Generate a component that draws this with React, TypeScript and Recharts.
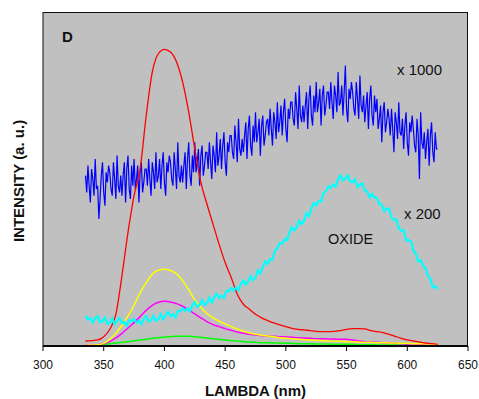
import React from 'react';
import { LineChart, Line, XAxis, YAxis, CartesianGrid } from 'recharts';

// wavelength grids (nm)
const SMOOTH_NM = [
  335, 340, 345, 350, 355, 360, 365, 370, 375, 380,
  385, 390, 395, 400, 405, 410, 415, 420, 425, 430,
  435, 440, 445, 450, 455, 460, 465, 470, 475, 480,
  485, 490, 495, 500, 505, 510, 515, 520, 525, 530,
  535, 540, 545, 550, 555, 560, 565, 570, 575, 580,
  585, 590, 595, 600, 605, 610, 615, 620, 625,
];

const CYAN_NM = [
  335, 337, 339, 341, 343, 345, 347, 349, 351, 353,
  355, 357, 359, 361, 363, 365, 367, 369, 371, 373,
  375, 377, 379, 381, 383, 385, 387, 389, 391, 393,
  395, 397, 399, 401, 403, 405, 407, 409, 411, 413,
  415, 417, 419, 421, 423, 425, 427, 429, 431, 433,
  435, 437, 439, 441, 443, 445, 447, 449, 451, 453,
  455, 457, 459, 461, 463, 465, 467, 469, 471, 473,
  475, 477, 479, 481, 483, 485, 487, 489, 491, 493,
  495, 497, 499, 501, 503, 505, 507, 509, 511, 513,
  515, 517, 519, 521, 523, 525, 527, 529, 531, 533,
  535, 537, 539, 541, 543, 545, 547, 549, 551, 553,
  555, 557, 559, 561, 563, 565, 567, 569, 571, 573,
  575, 577, 579, 581, 583, 585, 587, 589, 591, 593,
  595, 597, 599, 601, 603, 605, 607, 609, 611, 613,
  615, 617, 619, 621, 623, 625,
];

const BLUE_NM = [
  335, 336, 337, 338, 339, 340, 341, 342, 343, 344,
  345, 346, 347, 348, 349, 350, 351, 352, 353, 354,
  355, 356, 357, 358, 359, 360, 361, 362, 363, 364,
  365, 366, 367, 368, 369, 370, 371, 372, 373, 374,
  375, 376, 377, 378, 379, 380, 381, 382, 383, 384,
  385, 386, 387, 388, 389, 390, 391, 392, 393, 394,
  395, 396, 397, 398, 399, 400, 401, 402, 403, 404,
  405, 406, 407, 408, 409, 410, 411, 412, 413, 414,
  415, 416, 417, 418, 419, 420, 421, 422, 423, 424,
  425, 426, 427, 428, 429, 430, 431, 432, 433, 434,
  435, 436, 437, 438, 439, 440, 441, 442, 443, 444,
  445, 446, 447, 448, 449, 450, 451, 452, 453, 454,
  455, 456, 457, 458, 459, 460, 461, 462, 463, 464,
  465, 466, 467, 468, 469, 470, 471, 472, 473, 474,
  475, 476, 477, 478, 479, 480, 481, 482, 483, 484,
  485, 486, 487, 488, 489, 490, 491, 492, 493, 494,
  495, 496, 497, 498, 499, 500, 501, 502, 503, 504,
  505, 506, 507, 508, 509, 510, 511, 512, 513, 514,
  515, 516, 517, 518, 519, 520, 521, 522, 523, 524,
  525, 526, 527, 528, 529, 530, 531, 532, 533, 534,
  535, 536, 537, 538, 539, 540, 541, 542, 543, 544,
  545, 546, 547, 548, 549, 550, 551, 552, 553, 554,
  555, 556, 557, 558, 559, 560, 561, 562, 563, 564,
  565, 566, 567, 568, 569, 570, 571, 572, 573, 574,
  575, 576, 577, 578, 579, 580, 581, 582, 583, 584,
  585, 586, 587, 588, 589, 590, 591, 592, 593, 594,
  595, 596, 597, 598, 599, 600, 601, 602, 603, 604,
  605, 606, 607, 608, 609, 610, 611, 612, 613, 614,
  615, 616, 617, 618, 619, 620, 621, 622, 623, 624,
  625,
];

const RED = [
  1.5, 1.6, 1.8, 2.8, 5.0, 9.5, 21, 34, 45, 53,
  69, 82, 87.5, 88.8, 88, 85, 79, 70, 59, 49,
  42.5, 36.5, 30.5, 25, 20.5, 15.5, 12.5, 11, 9.5, 8.4,
  7.6, 6.9, 6.3, 5.8, 5.3, 5.0, 4.8, 4.6, 4.4, 4.3,
  4.3, 4.4, 4.6, 5.0, 5.2, 5.2, 5.1, 4.6, 4.3, 4.0,
  3.5, 2.9, 2.3, 1.8, 1.5, 1.2, 0.9, 0.7, 0.5,
];

const YELLOW = [
  0.2, 0.3, 0.4, 0.8, 2.0, 3.8, 6.2, 9.0, 12.2, 16,
  19, 21.5, 22.7, 23.0, 22.6, 21.6, 19.5, 16.8, 13.8, 11.5,
  9.7, 8.4, 7.4, 6.6, 5.8, 5.1, 4.4, 3.9, 3.5, 3.2,
  3.0, 2.8, 2.5, 2.3, 2.2, 2.0, 1.9, 1.8, 1.7, 1.6,
  1.5, 1.4, 1.4, 1.3, 1.3, 1.2, 1.1, 1.1, 1.0, 1.0,
  0.9, 0.9, 0.8, 0.8, 0.7, 0.7, 0.6, 0.6, 0.5,
];

const MAGENTA = [
  0.3, 0.3, 0.4, 0.7, 1.3, 2.4, 3.8, 5.4, 7.0, 8.8,
  10.7, 12.2, 13.1, 13.4, 13.2, 12.7, 11.9, 10.8, 9.6, 8.4,
  7.3, 6.4, 5.8, 5.2, 4.7, 4.2, 3.8, 3.5, 3.3, 3.1,
  3.0, 2.9, 2.8, 2.7, 2.6, 2.5, 2.4, 2.3, 2.2, 2.2,
  2.1, 2.1, 2.0, 2.0, 1.8, 1.5, 1.3, 1.2, 1.1, 1.0,
  0.9, 0.8, 0.7, 0.6, 0.6, 0.5, 0.5, 0.5, 0.5,
];

const GREEN = [
  0.1, 0.1, 0.2, 0.4, 0.7, 0.9, 1.1, 1.3, 1.6, 1.8,
  2.0, 2.3, 2.5, 2.7, 2.8, 2.9, 2.9, 2.9, 2.8, 2.6,
  2.4, 2.2, 2.0, 1.8, 1.6, 1.5, 1.3, 1.2, 1.1, 1.0,
  1.0, 0.9, 0.9, 0.8, 0.8, 0.7, 0.7, 0.7, 0.6, 0.6,
  0.6, 0.5, 0.5, 0.5, 0.5, 0.4, 0.4, 0.4, 0.3, 0.3,
  0.3, 0.3, 0.2, 0.2, 0.2, 0.1, 0.1, 0.1, 0.1,
];

// x 1000 trace
const BLUE = [
  51, 46, 54, 48, 43, 53, 50, 45, 56, 47,
  48, 38, 44, 51, 55, 46, 42, 52, 49, 54,
  52, 47, 45, 55, 50, 44, 57, 48, 46, 51,
  45, 51, 55, 43, 53, 57, 47, 44, 54, 48,
  56, 47, 50, 54, 43, 52, 55, 46, 49, 53,
  53, 48, 56, 50, 45, 55, 52, 47, 58, 49,
  51, 56, 47, 54, 58, 49, 45, 55, 52, 57,
  55, 50, 48, 58, 53, 47, 61, 51, 49, 54,
  49, 54, 58, 47, 56, 61, 51, 48, 57, 52,
  61, 52, 55, 59, 48, 57, 60, 51, 54, 58,
  58, 53, 61, 55, 50, 60, 57, 52, 64, 54,
  57, 62, 53, 60, 64, 55, 51, 61, 58, 63,
  63, 58, 56, 66, 61, 55, 68, 59, 57, 62,
  58, 63, 67, 56, 65, 69, 60, 57, 66, 61,
  70, 61, 64, 68, 57, 66, 69, 60, 63, 67,
  68, 63, 71, 65, 60, 70, 67, 62, 73, 64,
  67, 72, 63, 70, 74, 65, 61, 71, 68, 73,
  73, 68, 66, 76, 71, 65, 78, 69, 67, 72,
  67, 72, 76, 65, 74, 78, 69, 66, 75, 70,
  79, 70, 73, 77, 66, 75, 78, 69, 72, 76,
  76, 71, 79, 73, 68, 78, 75, 70, 82, 72,
  73, 78, 69, 76, 84, 71, 67, 77, 74, 79,
  76, 71, 69, 79, 74, 68, 81, 72, 70, 75,
  67, 72, 76, 65, 74, 78, 69, 66, 75, 70,
  74, 65, 68, 72, 61, 70, 73, 64, 67, 71,
  68, 63, 71, 65, 58, 70, 67, 62, 73, 64,
  63, 68, 59, 66, 70, 61, 57, 67, 64, 69,
  65, 60, 58, 68, 63, 50, 70, 61, 59, 64,
  56, 61, 65, 54, 63, 67, 58, 55, 64, 59,
  59,
];

// x 200 trace (oxide)
const CYAN = [
  9.1, 7.9, 8.3, 7.0, 8.4, 8.9, 7.1, 7.4, 8.5, 6.7,
  6.9, 8.3, 6.4, 7.6, 8.4, 6.8, 7.2, 6.1, 7.8, 7.4,
  8.1, 7.0, 7.6, 6.5, 8.1, 8.9, 7.3, 7.8, 9.1, 7.5,
  8.0, 9.5, 7.9, 9.2, 10.3, 8.9, 9.5, 8.6, 10.5, 10.3,
  11.3, 10.5, 11.3, 10.4, 12.2, 13.1, 11.7, 12.3, 13.7, 12.2,
  12.8, 14.5, 13.0, 14.5, 15.7, 14.4, 15.1, 14.4, 16.4, 16.4,
  17.3, 16.6, 17.5, 16.7, 18.6, 19.6, 18.4, 19.3, 20.9, 19.7,
  20.5, 22.7, 21.7, 23.7, 25.4, 24.6, 26.0, 25.9, 28.6, 29.2,
  30.8, 30.6, 32.0, 31.7, 34.1, 35.6, 34.6, 35.7, 37.5, 36.5,
  37.5, 39.8, 38.9, 41.0, 42.8, 42.1, 43.4, 43.2, 45.8, 46.3,
  47.8, 47.3, 48.4, 47.8, 49.9, 51.1, 49.6, 50.1, 51.1, 49.2,
  49.0, 49.9, 47.6, 48.3, 48.7, 46.6, 46.3, 44.5, 45.5, 44.4,
  44.3, 42.5, 42.3, 40.4, 41.2, 41.1, 38.4, 37.8, 37.9, 35.2,
  34.5, 34.7, 31.7, 31.7, 31.4, 28.6, 27.7, 25.3, 25.7, 24.0,
  23.3, 20.9, 20.1, 17.6, 17.8, 17.1,
];

const X_TICKS = [300, 350, 400, 450, 500, 550, 600, 650];

const toPoints = (xs: number[], ys: number[]) => xs.map((nm, i) => ({ nm, v: ys[i] }));

const FONT = '"Liberation Sans", Arial, Helvetica, sans-serif';

export default function App() {
  const W = 479;
  const H = 399;
  const plot = { left: 43, top: 12, right: 468, bottom: 346 };

  return (
    <div style={{ position: 'relative', width: W, height: H, background: '#fff' }}>
      <style>{`body{margin:0}`}</style>
      <LineChart
        width={W}
        height={H}
        margin={{ top: plot.top, right: W - plot.right, left: plot.left, bottom: H - plot.bottom - 30 }}
      >
        <CartesianGrid fill="#C0C0C0" horizontal={false} vertical={false} />
        <XAxis
          type="number"
          dataKey="nm"
          domain={[300, 650]}
          ticks={X_TICKS}
          allowDataOverflow
          height={30}
          axisLine={{ stroke: '#000', strokeWidth: 2 }}
          tickLine={{ stroke: '#000' }}
          tickSize={5}
          tickMargin={9}
          tick={{ fill: '#111', fontSize: 12, fontFamily: FONT }}
        />
        <YAxis
          type="number"
          domain={[0, 100]}
          width={0}
          tick={false}
          tickLine={false}
          axisLine={{ stroke: '#000', strokeWidth: 2 }}
        />
        <Line data={toPoints(BLUE_NM, BLUE)} dataKey="v" type="linear" stroke="#0000FF" strokeWidth={1.2} dot={false} isAnimationActive={false} />
        <Line data={toPoints(SMOOTH_NM, GREEN)} dataKey="v" type="monotone" stroke="#00FF00" strokeWidth={1.5} dot={false} isAnimationActive={false} />
        <Line data={toPoints(SMOOTH_NM, MAGENTA)} dataKey="v" type="monotone" stroke="#FF00FF" strokeWidth={1.5} dot={false} isAnimationActive={false} />
        <Line data={toPoints(SMOOTH_NM, YELLOW)} dataKey="v" type="monotone" stroke="#FFFF00" strokeWidth={1.5} dot={false} isAnimationActive={false} />
        <Line data={toPoints(SMOOTH_NM, RED)} dataKey="v" type="monotone" stroke="#FF0000" strokeWidth={1.3} dot={false} isAnimationActive={false} />
        <Line data={toPoints(CYAN_NM, CYAN)} dataKey="v" type="linear" stroke="#00FFFF" strokeWidth={2.2} dot={false} isAnimationActive={false} />
      </LineChart>

      <svg width={W} height={H} style={{ position: 'absolute', left: 0, top: 0, pointerEvents: 'none' }}>
        <rect x={plot.left} y={plot.top + 0.5} width={plot.right - plot.left - 0.5} height={plot.bottom - plot.top - 0.5} fill="none" stroke="#111" strokeWidth={1} />
        <text x={62} y={42} fontFamily={FONT} fontWeight="bold" fontSize={15} fill="#111">D</text>
        <text x={397} y={75} fontFamily={FONT} fontSize={15} fill="#111">x 1000</text>
        <text x={404} y={219} fontFamily={FONT} fontSize={15} fill="#111">x 200</text>
        <text x={328} y={244} fontFamily={FONT} fontSize={14.5} fill="#111">OXIDE</text>
        <text x={255.5} y={396} textAnchor="middle" fontFamily={FONT} fontWeight="bold" fontSize={15} fill="#111">LAMBDA (nm)</text>
        <text x={0} y={0} transform="translate(24,181) rotate(-90)" textAnchor="middle" fontFamily={FONT} fontWeight="bold" fontSize={15} fill="#111">INTENSITY (a. u.)</text>
      </svg>
    </div>
  );
}
